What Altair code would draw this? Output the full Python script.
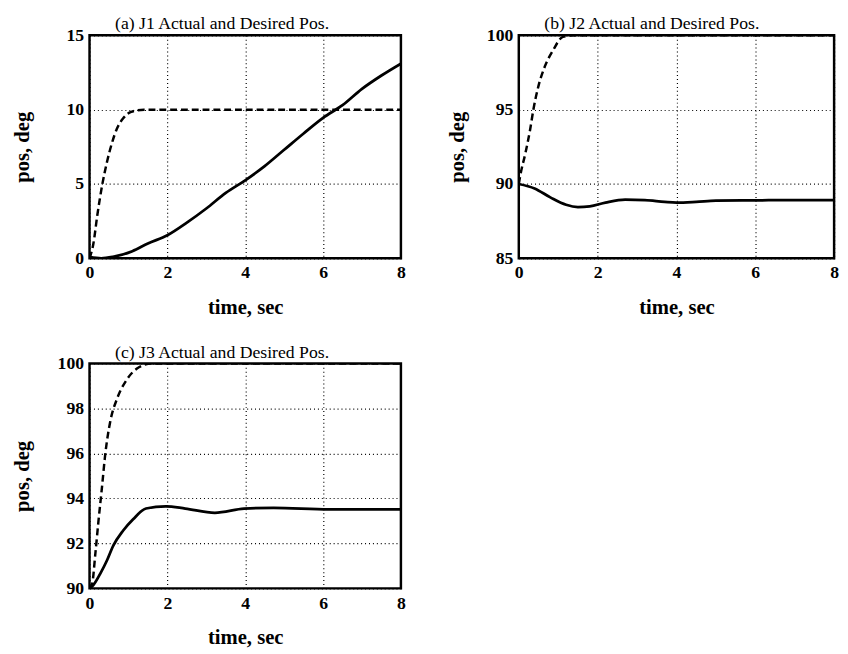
import altair as alt
import pandas as pd

FONT = "Liberation Serif"

# ---- Panel (a): J1 ----
t_des_a = [0, 0.1, 0.2, 0.33, 0.45, 0.57, 0.7, 0.86, 1.07, 1.4, 2.0, 8.0]
v_des_a = [0, 1.0, 2.9, 5.0, 6.5, 7.7, 8.7, 9.4, 9.85, 10.0, 10.0, 10.0]
t_act_a = [0, 0.3, 0.6, 1.1, 1.5, 2.0, 2.5, 3.0, 3.5, 4.0, 4.5, 5.0, 5.5, 6.0, 6.5, 7.0, 7.5, 8.0]
v_act_a = [0.1, 0.0, 0.1, 0.48, 1.0, 1.55, 2.4, 3.35, 4.4, 5.25, 6.2, 7.3, 8.4, 9.45, 10.3, 11.4, 12.3, 13.1]

# ---- Panel (b): J2 ----
t_des_b = [0, 0.04, 0.17, 0.29, 0.37, 0.5, 0.66, 0.87, 1.12, 1.4, 8.0]
v_des_b = [90, 90.6, 92.1, 93.7, 95.0, 96.6, 97.9, 99.0, 99.9, 100, 100]
t_act_b = [0, 0.4, 0.8, 1.2, 1.5, 1.8, 2.2, 2.7, 3.2, 3.7, 4.0, 4.5, 5.0, 6.0, 7.0, 8.0]
v_act_b = [90.0, 89.7, 89.1, 88.6, 88.45, 88.5, 88.75, 88.95, 88.92, 88.8, 88.75, 88.8, 88.88, 88.9, 88.92, 88.92]

# ---- Panel (c): J3 ----
t_des_c = [0, 0.07, 0.15, 0.23, 0.32, 0.40, 0.53, 0.70, 0.95, 1.28, 1.6, 8.0]
v_des_c = [90, 90.23, 91.55, 93.0, 94.5, 95.9, 97.4, 98.4, 99.26, 99.84, 100, 100]
t_act_c = [0, 0.07, 0.28, 0.45, 0.61, 0.86, 1.12, 1.45, 1.96, 2.46, 3.22, 3.97, 4.73, 6.15, 8.0]
v_act_c = [90, 90.09, 90.67, 91.25, 91.9, 92.56, 93.07, 93.55, 93.65, 93.55, 93.36, 93.54, 93.58, 93.51, 93.51]

x_ticks = [0, 2, 4, 6, 8]
y_ticks_a = [0, 5, 10, 15]
y_ticks_b = [85, 90, 95, 100]
y_ticks_c = [90, 92, 94, 96, 98, 100]

titles = ["(a) J1 Actual and Desired Pos.",
          "(b) J2 Actual and Desired Pos.",
          "(c) J3 Actual and Desired Pos."]


def make_panel(t_des, v_des, t_act, v_act, title, ydom, yvals, w, h, ytitle_x):
    des = pd.DataFrame({"t": t_des, "v": v_des})
    act = pd.DataFrame({"t": t_act, "v": v_act})
    x = alt.X("t:Q", scale=alt.Scale(domain=[0, 8], nice=False, zero=False),
              axis=alt.Axis(values=x_ticks, title="time, sec", format="d",
                            titleX=w / 2, titleY=50, titleBaseline="middle"))
    y = alt.Y("v:Q", scale=alt.Scale(domain=ydom, nice=False, zero=False),
              axis=alt.Axis(values=yvals, title="pos, deg", format="d",
                            titleX=ytitle_x, titleY=h / 2, titleBaseline="middle"))
    l_des = alt.Chart(des).mark_line(strokeDash=[7, 4], strokeWidth=2.5, color="black",
                                     interpolate="monotone", clip=True).encode(x=x, y=y)
    l_act = alt.Chart(act).mark_line(strokeWidth=2.8, color="black",
                                     interpolate="monotone", clip=True).encode(x=x, y=y)
    return alt.layer(l_des, l_act).properties(
        width=w, height=h,
        title=alt.TitleParams(title, frame="group", anchor="start", dx=26, offset=-7))


pa = make_panel(t_des_a, v_des_a, t_act_a, v_act_a, titles[0], [0, 15], y_ticks_a, 317, 227, -68)
pb = make_panel(t_des_b, v_des_b, t_act_b, v_act_b, titles[1], [85, 100], y_ticks_b, 321, 227, -62)
pc = make_panel(t_des_c, v_des_c, t_act_c, v_act_c, titles[2], [90, 100], y_ticks_c, 317, 229, -68)

row1 = alt.hconcat(pa, pb, spacing=39)
chart = alt.vconcat(row1, pc, spacing=23).properties(
    padding={"left": 2, "top": 0, "right": 0, "bottom": 0}
).configure_view(
    stroke="black", strokeWidth=2.5
).configure_axis(
    labelFont=FONT, labelFontSize=18, labelFontWeight="bold", labelColor="black",
    titleFont=FONT, titleFontSize=21, titleFontWeight="bold", titleColor="black",
    grid=True, gridColor="black", gridDash=[1, 3], gridOpacity=1, gridWidth=1.2,
    domain=False, ticks=False, labelPadding=6, labelFlush=False, labelOverlap=False
).configure_title(
    font=FONT, fontSize=18, fontWeight="normal", color="black"
)

chart.save("out.html", embed_options={"renderer": "svg", "actions": False})
